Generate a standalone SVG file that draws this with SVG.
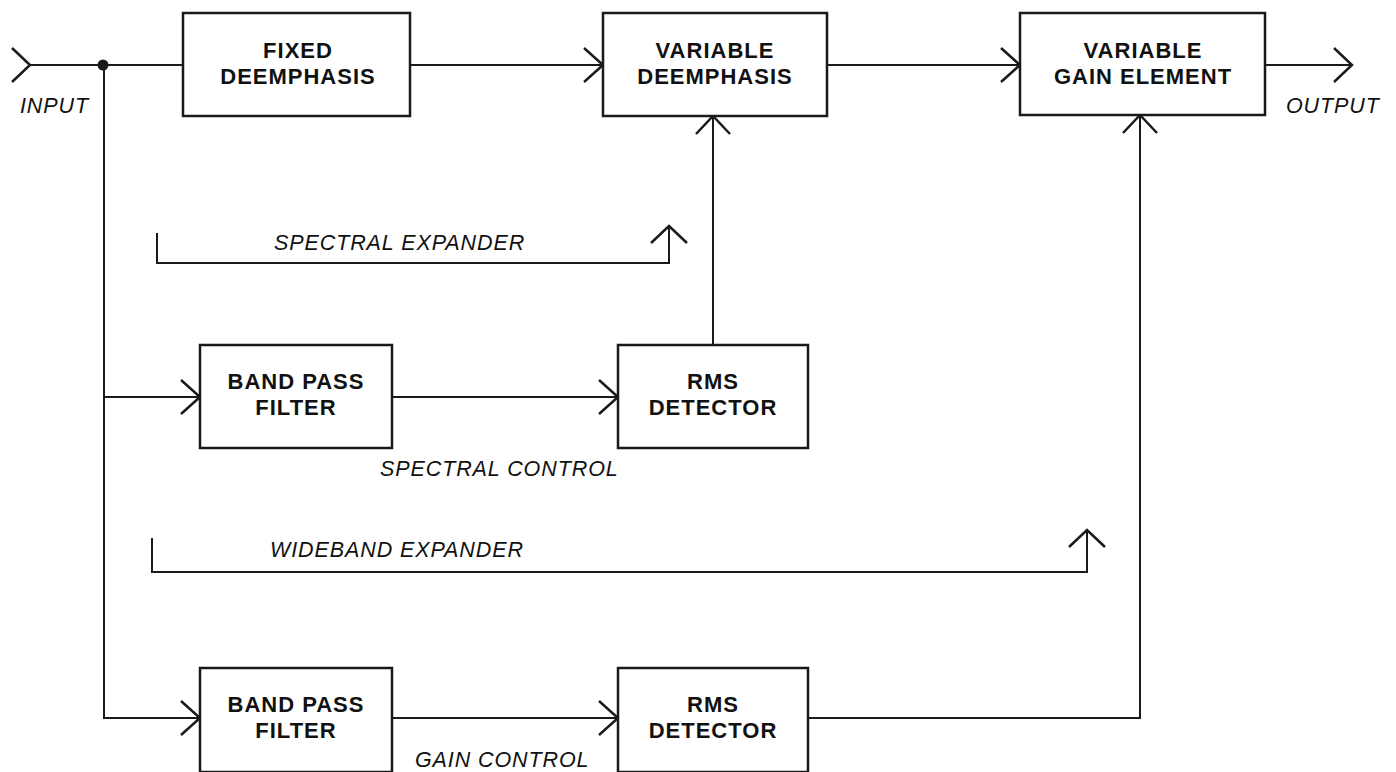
<svg xmlns="http://www.w3.org/2000/svg" width="1396" height="772" viewBox="0 0 1396 772">
<style>
.box{fill:#fff;stroke:#1a1a1a;stroke-width:2.5}
.ln{fill:none;stroke:#1a1a1a;stroke-width:2;stroke-linejoin:miter}
.ah{fill:none;stroke:#1a1a1a;stroke-width:2.5}
.t{font-family:"Liberation Sans",Arial,sans-serif;font-weight:bold;font-size:22px;letter-spacing:1px;text-anchor:middle;fill:#111}
.it{font-family:"Liberation Sans",Arial,sans-serif;font-style:italic;font-size:21.5px;letter-spacing:0.9px;fill:#111}
</style>
<rect width="1396" height="772" fill="#fff"/>
<g id="connectors">
<path class="ln" d="M30,65 H183"/>
<path class="ln" d="M410,65 H603"/>
<path class="ln" d="M827,65 H1020"/>
<path class="ln" d="M1265,65 H1352"/>
<path class="ln" d="M104,65 V718 H200"/>
<path class="ln" d="M104,397 H200"/>
<path class="ln" d="M392,397 H618"/>
<path class="ln" d="M713,345 V116"/>
<path class="ln" d="M392,718 H618"/>
<path class="ln" d="M808,718 H1140 V115"/>
<path class="ln" d="M157,233 V263 H669 V227"/>
<path class="ln" d="M152,538 V572 H1087 V531"/>
<circle cx="103" cy="65" r="5.5" fill="#1a1a1a"/>
<path class="ah" d="M12,48 L30,65 L12,82"/>
<path class="ah" d="M1334,48 L1352,65 L1334,82"/>
<path class="ah" d="M584,48 L603,65 L584,82"/>
<path class="ah" d="M1001,48 L1020,65 L1001,82"/>
<path class="ah" d="M181,380 L200,397 L181,414"/>
<path class="ah" d="M599,380 L618,397 L599,414"/>
<path class="ah" d="M181,701 L200,718 L181,735"/>
<path class="ah" d="M599,701 L618,718 L599,735"/>
<path class="ah" d="M696,134 L713,116 L730,134"/>
<path class="ah" d="M1123,133 L1140,115 L1157,133"/>
<path class="ah" d="M651,243 L669,226 L687,243"/>
<path class="ah" d="M1069,547 L1087,530 L1105,547"/>
</g>
<g id="fixed-deemphasis">
<rect class="box" x="183" y="13" width="227" height="103"/>
<text class="t" x="298" y="58">FIXED</text>
<text class="t" x="298" y="84">DEEMPHASIS</text>
</g>
<g id="variable-deemphasis">
<rect class="box" x="603" y="13" width="224" height="103"/>
<text class="t" x="715" y="58">VARIABLE</text>
<text class="t" x="715" y="84">DEEMPHASIS</text>
</g>
<g id="variable-gain-element">
<rect class="box" x="1020" y="13" width="245" height="102"/>
<text class="t" x="1143" y="58">VARIABLE</text>
<text class="t" x="1143" y="84">GAIN ELEMENT</text>
</g>
<g id="band-pass-filter-1">
<rect class="box" x="200" y="345" width="192" height="103"/>
<text class="t" x="296" y="389">BAND PASS</text>
<text class="t" x="296" y="415">FILTER</text>
</g>
<g id="rms-detector-1">
<rect class="box" x="618" y="345" width="190" height="103"/>
<text class="t" x="713" y="389">RMS</text>
<text class="t" x="713" y="415">DETECTOR</text>
</g>
<g id="band-pass-filter-2">
<rect class="box" x="200" y="668" width="192" height="104"/>
<text class="t" x="296" y="712">BAND PASS</text>
<text class="t" x="296" y="738">FILTER</text>
</g>
<g id="rms-detector-2">
<rect class="box" x="618" y="668" width="190" height="104"/>
<text class="t" x="713" y="712">RMS</text>
<text class="t" x="713" y="738">DETECTOR</text>
</g>
<g id="labels">
<text class="it" x="20" y="113">INPUT</text>
<text class="it" x="1286" y="113">OUTPUT</text>
<text class="it" x="274" y="250">SPECTRAL EXPANDER</text>
<text class="it" x="380" y="476">SPECTRAL CONTROL</text>
<text class="it" x="270" y="557">WIDEBAND EXPANDER</text>
<text class="it" x="415" y="767">GAIN CONTROL</text>
</g>
</svg>
